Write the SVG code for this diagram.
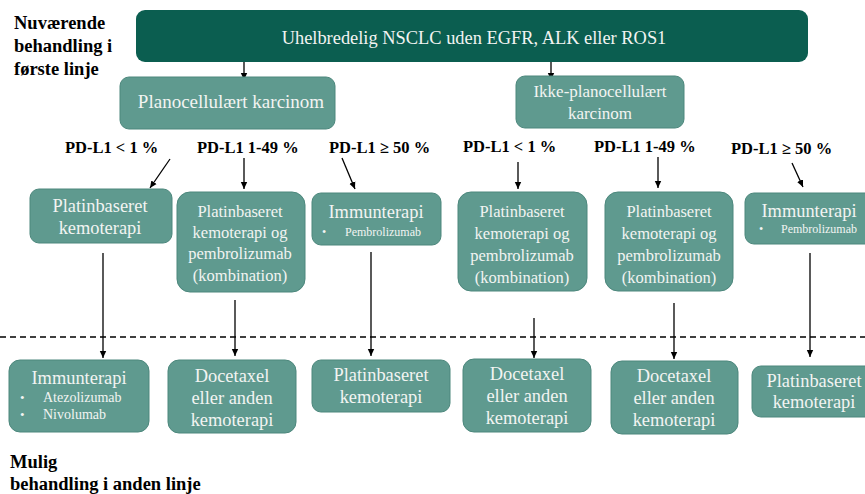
<svg xmlns="http://www.w3.org/2000/svg" width="865" height="494" viewBox="0 0 865 494">
<defs>
<marker id="ah" markerWidth="8" markerHeight="8" refX="7" refY="4" orient="auto" markerUnits="userSpaceOnUse">
<path d="M0,0.8 L7,4 L0,7.2 Z" fill="#000"/>
</marker>
</defs>
<style>
text{font-family:"Liberation Serif",Tinos,"DejaVu Serif","Times New Roman",serif}
.box{fill:#5f9a8f;stroke:#4c877c;stroke-width:1}
.top{fill:#0b5e50}
.t{fill:#f2f4f2;text-anchor:middle}
.s{font-size:18.4px}
.m{font-size:16.5px}
.b{fill:#f2f4f2;font-size:12px}
.lab{font-weight:bold;font-size:16.5px;fill:#000}
.side{font-weight:bold;font-size:18.5px;fill:#000}
.c{stroke:#000;stroke-width:1.3;fill:none;marker-end:url(#ah)}
</style>
<rect width="865" height="494" fill="#fff"/>

<g id="side-labels">
<text class="side" x="14" y="29">Nuværende</text>
<text class="side" x="14" y="52">behandling i</text>
<text class="side" x="14" y="75">første linje</text>
<text class="side" x="10" y="468">Mulig</text>
<text class="side" x="10" y="490">behandling i anden linje</text>
</g>

<line x1="0" y1="337" x2="865" y2="337" stroke="#000" stroke-width="1.3" stroke-dasharray="6,4"/>

<g id="connectors">
<line class="c" x1="244" y1="62" x2="244" y2="80"/>
<line class="c" x1="551" y1="62" x2="551" y2="80"/>
<line class="c" x1="170" y1="159" x2="150" y2="188"/>
<line class="c" x1="244" y1="158" x2="244" y2="189"/>
<line class="c" x1="342" y1="158" x2="355" y2="189"/>
<line class="c" x1="518" y1="162" x2="518" y2="189"/>
<line class="c" x1="658" y1="157" x2="658" y2="188"/>
<line class="c" x1="792" y1="163" x2="803" y2="187"/>
<line class="c" x1="103" y1="253" x2="103" y2="358"/>
<line class="c" x1="235" y1="300" x2="235" y2="356"/>
<line class="c" x1="371" y1="252" x2="371" y2="356"/>
<line class="c" x1="534" y1="318" x2="534" y2="358"/>
<line class="c" x1="674" y1="303" x2="674" y2="359"/>
<line class="c" x1="810" y1="253" x2="810" y2="357"/>
</g>

<g id="pdl1-labels">
<text class="lab" x="65" y="153">PD-L1 &lt; 1 %</text>
<text class="lab" x="197" y="153">PD-L1 1-49 %</text>
<text class="lab" x="329" y="153">PD-L1 ≥ 50 %</text>
<text class="lab" x="463" y="152">PD-L1 &lt; 1 %</text>
<text class="lab" x="594" y="152">PD-L1 1-49 %</text>
<text class="lab" x="731" y="154">PD-L1 ≥ 50 %</text>
</g>

<g id="n-top">
<rect class="top" x="136" y="10" width="672" height="52" rx="9"/>
<text class="t s" x="474" y="44">Uhelbredelig NSCLC uden EGFR, ALK eller ROS1</text>
</g>

<g id="n-plano">
<rect class="box" x="120" y="77" width="215" height="52" rx="9"/>
<text class="t" x="231" y="108" style="font-size:19px">Planocellulært karcinom</text>
</g>

<g id="n-ikke">
<rect class="box" x="516" y="76" width="168" height="52" rx="9"/>
<text class="t" x="600" y="97" style="font-size:17px">Ikke-planocellulært</text>
<text class="t" x="600" y="119" style="font-size:17px">karcinom</text>
</g>

<g id="n-a1">
<rect class="box" x="30" y="189" width="142" height="54" rx="9"/>
<text class="t s" x="100" y="212">Platinbaseret</text>
<text class="t s" x="100" y="234">kemoterapi</text>
</g>

<g id="n-a2">
<rect class="box" x="177" y="192" width="128" height="100" rx="13"/>
<text class="t m" x="240" y="217">Platinbaseret</text>
<text class="t m" x="240" y="238">kemoterapi og</text>
<text class="t m" x="240" y="259">pembrolizumab</text>
<text class="t m" x="240" y="281">(kombination)</text>
</g>

<g id="n-a3">
<rect class="box" x="312" y="193" width="129" height="52" rx="9"/>
<text class="t s" x="376" y="218">Immunterapi</text>
<text class="b" x="322" y="236">•</text>
<text class="b" x="345" y="236">Pembrolizumab</text>
</g>

<g id="n-b1">
<rect class="box" x="458" y="192" width="129" height="99" rx="13"/>
<text class="t m" x="522" y="217">Platinbaseret</text>
<text class="t m" x="522" y="239">kemoterapi og</text>
<text class="t m" x="522" y="261">pembrolizumab</text>
<text class="t m" x="522" y="283">(kombination)</text>
</g>

<g id="n-b2">
<rect class="box" x="605" y="192" width="128" height="99" rx="13"/>
<text class="t m" x="669" y="217">Platinbaseret</text>
<text class="t m" x="669" y="239">kemoterapi og</text>
<text class="t m" x="669" y="261">pembrolizumab</text>
<text class="t m" x="669" y="283">(kombination)</text>
</g>

<g id="n-b3">
<rect class="box" x="745" y="193" width="130" height="51" rx="9"/>
<text class="t s" x="809" y="217">Immunterapi</text>
<text class="b" x="759" y="233">•</text>
<text class="b" x="781" y="233">Pembrolizumab</text>
</g>

<g id="n-c1">
<rect class="box" x="9" y="360" width="140" height="72" rx="11"/>
<text class="t s" x="79" y="384">Immunterapi</text>
<text class="b" x="20" y="402" style="font-size:13px">•</text>
<text class="b" x="43" y="402" style="font-size:14px">Atezolizumab</text>
<text class="b" x="20" y="419" style="font-size:13px">•</text>
<text class="b" x="43" y="419" style="font-size:14px">Nivolumab</text>
</g>

<g id="n-c2">
<rect class="box" x="168" y="360" width="128" height="73" rx="11"/>
<text class="t s" x="232" y="382">Docetaxel</text>
<text class="t s" x="232" y="404">eller anden</text>
<text class="t s" x="232" y="426">kemoterapi</text>
</g>

<g id="n-c3">
<rect class="box" x="312" y="360" width="138" height="52" rx="9"/>
<text class="t s" x="381" y="381">Platinbaseret</text>
<text class="t s" x="381" y="403">kemoterapi</text>
</g>

<g id="n-d1">
<rect class="box" x="463" y="359" width="128" height="73" rx="11"/>
<text class="t s" x="527" y="380">Docetaxel</text>
<text class="t s" x="527" y="402">eller anden</text>
<text class="t s" x="527" y="424">kemoterapi</text>
</g>

<g id="n-d2">
<rect class="box" x="611" y="361" width="127" height="73" rx="11"/>
<text class="t s" x="674" y="382">Docetaxel</text>
<text class="t s" x="674" y="404">eller anden</text>
<text class="t s" x="674" y="426">kemoterapi</text>
</g>

<g id="n-d3">
<rect class="box" x="752" y="366" width="124" height="51" rx="9"/>
<text class="t s" x="814" y="387">Platinbaseret</text>
<text class="t s" x="814" y="408">kemoterapi</text>
</g>
</svg>
